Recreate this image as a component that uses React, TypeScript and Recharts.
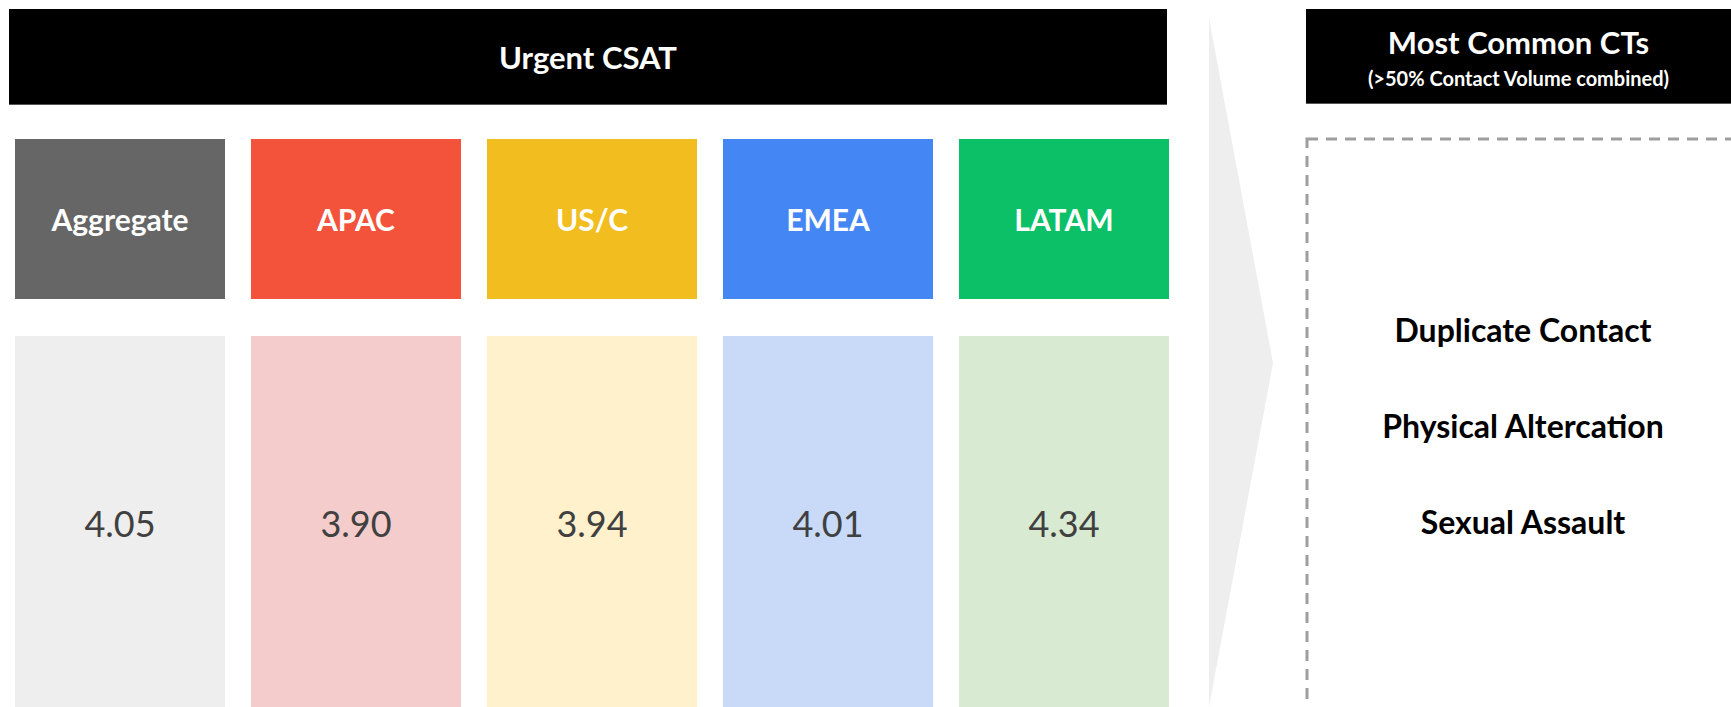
import React from "react";
import { BarChart, Bar, XAxis, YAxis } from "recharts";

const regions = ["Aggregate", "APAC", "US/C", "EMEA", "LATAM"];
const csatScores = [4.05, 3.9, 3.94, 4.01, 4.34];
const headerColors = ["#666666", "#F3533A", "#F1BD1F", "#4486F4", "#0BC066"];
const cellColors = ["#EEEEEE", "#F4CCCC", "#FEF1CC", "#C9DAF8", "#D9EAD3"];
const topContactTypes = ["Duplicate Contact", "Physical Altercation", "Sexual Assault"];
const mainTitle = "Urgent CSAT";
const sideTitle = "Most Common CTs";
const sideSubtitle = "(>50% Contact Volume combined)";

const data = regions.map((r, i) => ({ region: r, csat: csatScores[i], idx: i }));

const FONT = "Lato, 'Open Sans', sans-serif";
const CAT_TOP = 139;
const CAT_H = 160;
const BOX_W = 210;

const CategoryTick = (props: any) => {
  const { x, payload, index } = props;
  const i = typeof index === "number" ? index : regions.indexOf(payload.value);
  return (
    <g>
      <rect x={x - BOX_W / 2} y={CAT_TOP} width={BOX_W} height={CAT_H} fill={headerColors[i]} />
      <text
        x={x}
        y={CAT_TOP + CAT_H / 2}
        textAnchor="middle"
        dominantBaseline="central"
        fill="#FFFFFF"
        fontFamily={FONT}
        fontWeight={700}
        fontSize={30}
      >
        {payload.value}
      </text>
    </g>
  );
};

const ValueCell = (props: any) => {
  const { x, y, width, height, index, payload } = props;
  const i = typeof index === "number" ? index : payload?.idx ?? 0;
  return (
    <g>
      <rect x={x} y={y} width={width} height={height} fill={cellColors[i]} />
      <text
        x={x + width / 2}
        y={y + height / 2 + 1}
        textAnchor="middle"
        dominantBaseline="central"
        fill="#404040"
        fontFamily={FONT}
        fontSize={36}
      >
        {csatScores[i].toFixed(2)}
      </text>
    </g>
  );
};

export default function App() {
  return (
    <div style={{ position: "relative", width: 1731, height: 707, overflow: "hidden", background: "#fff" }}>
      <style>{`body{margin:0;}`}</style>
      <div
        style={{
          position: "absolute",
          left: 9,
          top: 9,
          width: 1158,
          height: 95,
          background: "#000",
          borderBottom: "1px solid #555",
          color: "#fff",
          fontFamily: FONT,
          fontWeight: 700,
          fontSize: 31,
          display: "flex",
          alignItems: "center",
          justifyContent: "center",
        }}
      >
        {mainTitle}
      </div>
      <div
        style={{
          position: "absolute",
          left: 1306,
          top: 9,
          width: 440,
          height: 95,
          background: "#000",
          borderBottom: "1px solid #555",
          color: "#fff",
          fontFamily: FONT,
          fontWeight: 700,
          display: "flex",
          flexDirection: "column",
          alignItems: "center",
          justifyContent: "center",
          paddingRight: 15,
          paddingTop: 6,
          boxSizing: "border-box",
        }}
      >
        <div style={{ fontSize: 31, lineHeight: "38px" }}>{sideTitle}</div>
        <div style={{ fontSize: 20, lineHeight: "34px" }}>{sideSubtitle}</div>
      </div>
      <svg style={{ position: "absolute", left: 0, top: 0 }} width={1731} height={707}>
        <polygon points="1209,18 1273,363 1209,707" fill="#EEEEEE" />
        <rect
          x={1307}
          y={139}
          width={440}
          height={600}
          fill="none"
          stroke="#9E9E9E"
          strokeWidth={3}
          strokeDasharray="11 8"
        />
        {topContactTypes.map((t, i) => (
          <text
            key={t}
            x={1523}
            y={329 + i * 96}
            textAnchor="middle"
            dominantBaseline="central"
            fill="#000"
            fontFamily={FONT}
            fontWeight={700}
            fontSize={32}
          >
            {t}
          </text>
        ))}
      </svg>
      <div style={{ position: "absolute", left: 0, top: 0 }}>
        <BarChart
          width={1190}
          height={707}
          data={data}
          margin={{ top: CAT_TOP, right: 8, left: 2, bottom: 0 }}
          barCategoryGap={26}
        >
          <XAxis
            dataKey="region"
            orientation="top"
            height={197}
            axisLine={false}
            tickLine={false}
            interval={0}
            tick={<CategoryTick />}
          />
          <YAxis hide domain={[0, 5]} />
          <Bar
            dataKey="csat"
            barSize={BOX_W}
            fill="transparent"
            isAnimationActive={false}
            background={<ValueCell />}
          />
        </BarChart>
      </div>
    </div>
  );
}
